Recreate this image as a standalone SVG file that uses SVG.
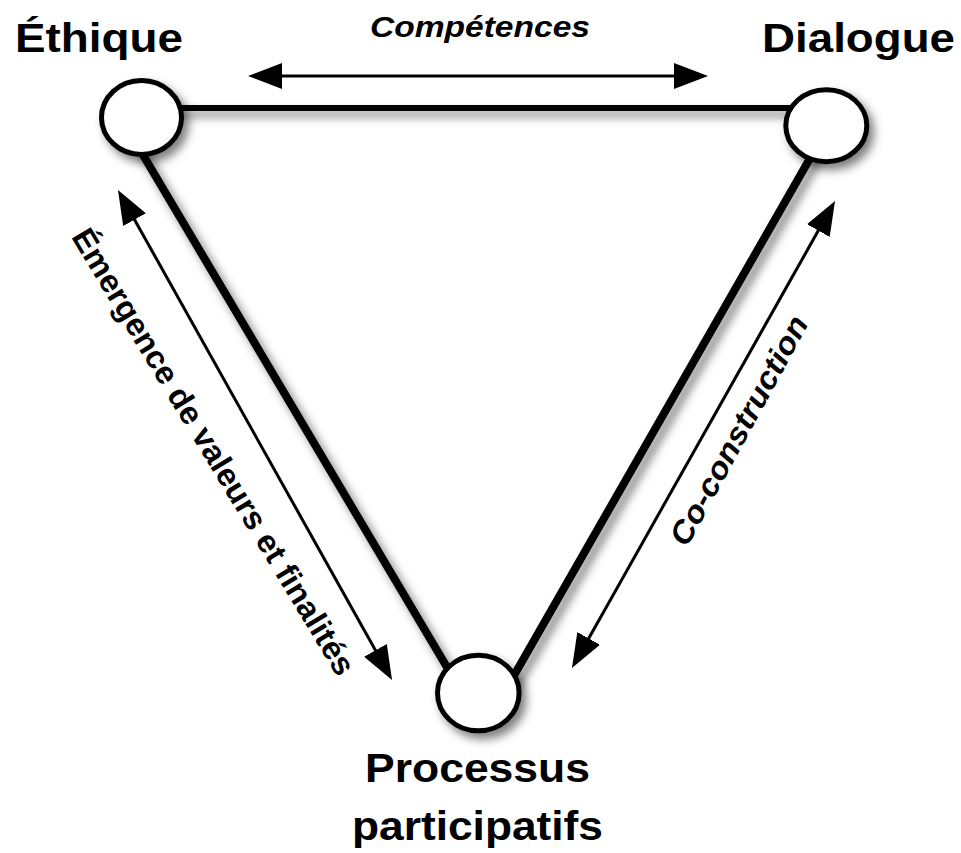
<svg xmlns="http://www.w3.org/2000/svg" width="961" height="853" viewBox="0 0 961 853">
<style>
.edge{stroke:#000;fill:none;stroke-linecap:butt}
.arrow{stroke:#000;stroke-width:3;fill:none;marker-start:url(#head);marker-end:url(#head)}
.node{fill:#fff;stroke:#000;stroke-width:5}
.big{font-family:"Liberation Sans",Arial,Helvetica,sans-serif;font-weight:bold;font-size:40px;fill:#000}
.lbl{font-family:"Liberation Sans",Arial,Helvetica,sans-serif;font-weight:bold;fill:#000}
.it{font-style:italic}
</style>
<defs>
<filter id="sh" x="-30%" y="-30%" width="160%" height="160%">
<feDropShadow dx="5" dy="6" stdDeviation="5" flood-color="#000" flood-opacity="0.5"/>
</filter>
<marker id="head" viewBox="0 0 34 26" markerWidth="34" markerHeight="26" refX="4" refY="13" orient="auto-start-reverse" markerUnits="userSpaceOnUse">
<path d="M0,0 L34,13 L0,26 z" fill="#000"/>
</marker>
</defs>
<rect width="961" height="853" fill="#fff"/>
<g id="connectors">
<g filter="url(#sh)">
<line class="edge" x1="150" y1="108" x2="810" y2="108" stroke-width="6"/>
<line class="edge" x1="128.2" y1="130" x2="460.5" y2="690" stroke-width="8"/>
<line class="edge" x1="820.5" y1="140" x2="505.7" y2="690" stroke-width="8"/>
</g>
<line class="arrow" x1="278" y1="76" x2="678" y2="76"/>
<line class="arrow" x1="132.6" y1="216.2" x2="377.4" y2="653.8"/>
<line class="arrow" x1="586.7" y1="641.9" x2="820.3" y2="227.1"/>
<text class="lbl it" x="480" y="37" font-size="29" text-anchor="middle" textLength="220" lengthAdjust="spacingAndGlyphs">Compétences</text>
<text class="lbl" font-size="32" transform="translate(70.7,236.7) rotate(58.8)" textLength="516" lengthAdjust="spacingAndGlyphs">Émergence de valeurs et finalités</text>
<text class="lbl it" font-size="31" transform="translate(687,548) rotate(-61.5)" textLength="256" lengthAdjust="spacingAndGlyphs">Co-construction</text>
</g>
<g id="node-ethique">
<ellipse class="node" cx="141.5" cy="117.5" rx="40" ry="37" filter="url(#sh)"/>
<text class="big" x="15" y="52" textLength="168" lengthAdjust="spacingAndGlyphs">Éthique</text>
</g>
<g id="node-dialogue">
<ellipse class="node" cx="826.3" cy="125.7" rx="40.5" ry="36" filter="url(#sh)"/>
<text class="big" x="762" y="52" textLength="193" lengthAdjust="spacingAndGlyphs">Dialogue</text>
</g>
<g id="node-processus">
<ellipse class="node" cx="478.3" cy="693" rx="40.8" ry="37.8" filter="url(#sh)"/>
<text class="big" x="365" y="782" textLength="225" lengthAdjust="spacingAndGlyphs">Processus</text>
<text class="big" x="352" y="840" textLength="251" lengthAdjust="spacingAndGlyphs">participatifs</text>
</g>
</svg>
